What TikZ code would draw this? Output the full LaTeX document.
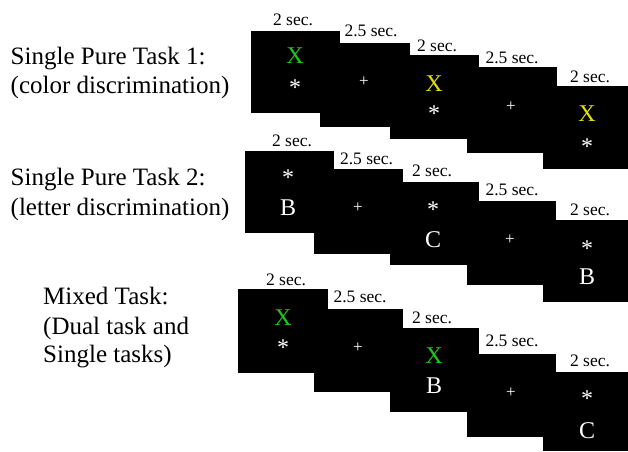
\documentclass[tikz,border=0pt]{standalone}
\usepackage{fontspec}
\setmainfont{Liberation Serif}
\definecolor{cueGreen}{RGB}{30,200,30}
\definecolor{cueYellow}{RGB}{226,220,20}
\tikzset{
  screen/.style={fill=black, draw=none},
  dur/.style={anchor=base, inner sep=0pt, font=\fontsize{17.5}{17.5}\selectfont},
  glyph/.style={anchor=base, inner sep=0pt, text=white, font=\fontsize{24}{24}\selectfont},
  fixcross/.style={anchor=base, inner sep=0pt, text=white, font=\fontsize{17}{17}\selectfont},
  task/.style={anchor=base west, inner sep=0pt, font=\fontsize{25}{29}\selectfont},
}
\begin{document}
\begin{tikzpicture}[x=1pt,y=-1pt]
\useasboundingbox (0,0) rectangle (628,451);

% ---------- task names ----------
\node[task] (t1a) at (10.5,64.3) {Single Pure Task 1:};
\node[task] (t1b) at (10.5,93.3) {(color discrimination)};
\node[task] (t2a) at (10.5,185.7) {Single Pure Task 2:};
\node[task] (t2b) at (10.5,215) {(letter discrimination)};
\node[task] (t3a) at (43,304.3) {Mixed Task:};
\node[task] (t3b) at (43,334.3) {(Dual task and};
\node[task] (t3c) at (43,362.3) {Single tasks)};

% ---------- row 1: color discrimination ----------
\fill[screen] (251,31) rectangle (340,113);
\fill[screen] (320,43) rectangle (410,127);
\fill[screen] (390,55) rectangle (479,139);
\fill[screen] (467,67) rectangle (557,153);
\fill[screen] (543,86) rectangle (628,169);

\node[dur] (d11) at (293,25) {2 sec.};
\node[dur] (d12) at (371,36.7) {2.5 sec.};
\node[dur] (d13) at (437,51.7) {2 sec.};
\node[dur] (d14) at (512,63.3) {2.5 sec.};
\node[dur] (d15) at (590,82.7) {2 sec.};

\node[glyph, text=cueGreen] (g11x) at (295,63) {X};
\node[glyph] (g11s) at (295,95) {*};
\node[fixcross] (g12p) at (364,86.6) {+};
\node[glyph, text=cueYellow] (g13x) at (434,91) {X};
\node[glyph] (g13s) at (434,121) {*};
\node[fixcross] (g14p) at (511,111.6) {+};
\node[glyph, text=cueYellow] (g15x) at (587,121) {X};
\node[glyph] (g15s) at (587,154) {*};

% ---------- row 2: letter discrimination ----------
\fill[screen] (245,151) rectangle (334,233);
\fill[screen] (314,169) rectangle (403,254);
\fill[screen] (390,182) rectangle (479,265);
\fill[screen] (467,201) rectangle (556,285);
\fill[screen] (543,220) rectangle (628,302);

\node[dur] (d21) at (292,146.7) {2 sec.};
\node[dur] (d22) at (366.5,164.3) {2.5 sec.};
\node[dur] (d23) at (432,176.7) {2 sec.};
\node[dur] (d24) at (512,195) {2.5 sec.};
\node[dur] (d25) at (590,215) {2 sec.};

\node[glyph] (g21s) at (288,185) {*};
\node[glyph] (g21b) at (288,215) {B};
\node[fixcross] (g22p) at (358,212.6) {+};
\node[glyph] (g23s) at (433,217) {*};
\node[glyph] (g23c) at (433,247) {C};
\node[fixcross] (g24p) at (510,244.6) {+};
\node[glyph] (g25s) at (587,256) {*};
\node[glyph] (g25b) at (587,284) {B};

% ---------- row 3: mixed task ----------
\fill[screen] (238,289) rectangle (328,373);
\fill[screen] (314,309) rectangle (403,392);
\fill[screen] (390,328) rectangle (479,412);
\fill[screen] (467,354) rectangle (556,437);
\fill[screen] (543,372) rectangle (628,451);

\node[dur] (d31) at (286,285) {2 sec.};
\node[dur] (d32) at (360,302.7) {2.5 sec.};
\node[dur] (d33) at (432,323.3) {2 sec.};
\node[dur] (d34) at (512,346.7) {2.5 sec.};
\node[dur] (d35) at (590,366.7) {2 sec.};

\node[glyph, text=cueGreen] (g31x) at (283,325) {X};
\node[glyph] (g31s) at (283,355) {*};
\node[fixcross] (g32p) at (358,352.6) {+};
\node[glyph, text=cueGreen] (g33x) at (434,363) {X};
\node[glyph] (g33b) at (434,393) {B};
\node[fixcross] (g34p) at (511,397.6) {+};
\node[glyph] (g35s) at (587,406) {*};
\node[glyph] (g35c) at (587,438) {C};
\end{tikzpicture}
\end{document}
